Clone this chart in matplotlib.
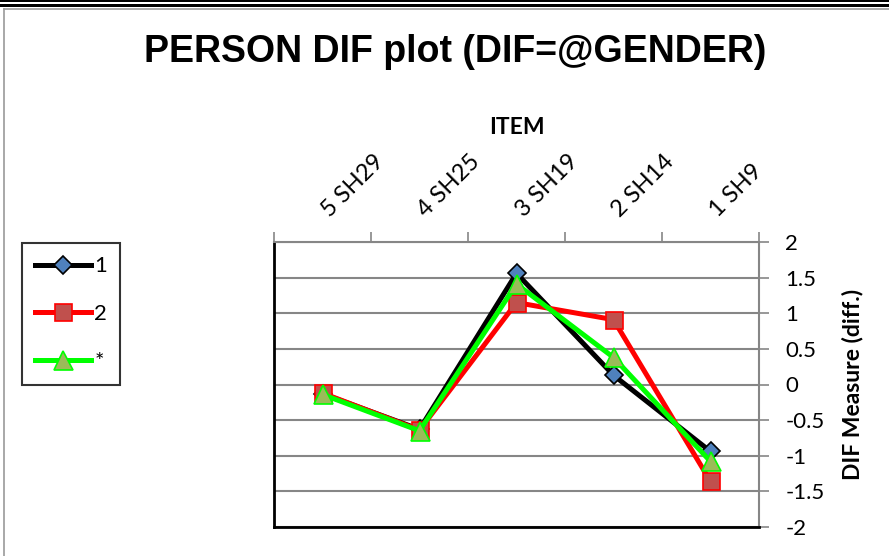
import matplotlib
matplotlib.use('Agg')
import matplotlib.pyplot as plt
from matplotlib.lines import Line2D
from matplotlib.transforms import ScaledTranslation

# ── data ──────────────────────────────────────────────────────────────
items = ['5 SH29', '4 SH25', '3 SH19', '2 SH14', '1 SH9']
series_1 = [-0.13, -0.63, 1.56, 0.13, -0.94]
series_2 = [-0.12, -0.64, 1.15, 0.91, -1.36]
series_star = [-0.14, -0.65, 1.41, 0.38, -1.08]
y_ticks = [-2, -1.5, -1, -0.5, 0, 0.5, 1, 1.5, 2]

plt.rcParams['font.family'] = ['Lato', 'DejaVu Sans']

W, H = 889, 556
fig = plt.figure(figsize=(W / 100, H / 100), dpi=100, facecolor='white')
ax = fig.add_axes([274 / W, 1 - 527 / H, 485 / W, 285 / H])

x = list(range(len(items)))
px = 72 / 100  # points per pixel

ax.plot(x, series_1, color='black', lw=5 * px, marker='D', ms=13 * px,
        mfc='#4F81BD', mec='black', mew=1.2, label='1', zorder=3)
ax.plot(x, series_2, color='#FF0000', lw=5 * px, marker='s', ms=17 * px,
        mfc='#C0504D', mec='#FF0000', mew=1.2, label='2', zorder=4)
ax.plot(x, series_star, color='#00FF00', lw=5 * px, marker='^', ms=19 * px,
        mfc='#9BBB59', mec='#00FF00', mew=1.2, label='*', zorder=5)

ax.set_xlim(-0.5, len(items) - 0.5)
ax.set_ylim(-2, 2)

# y axis on the right
ax.yaxis.tick_right()
ax.yaxis.set_label_position('right')
ax.set_yticks(y_ticks)
ax.set_yticklabels([f'{v:g}' for v in y_ticks])
ax.tick_params(axis='y', direction='out', length=7, width=1.2,
               color='#868686', labelsize=16, pad=12)
ax.set_ylabel('DIF Measure (diff.)', fontsize=16.5, fontweight='bold',
              labelpad=12)

# x axis on top: tick marks between categories, rotated labels drawn as text
ax.xaxis.tick_top()
ax.set_xticks(x)
ax.set_xticklabels([])
ax.set_xticks([i - 0.5 for i in range(len(items) + 1)], minor=True)
ax.tick_params(axis='x', which='major', length=0)
ax.tick_params(axis='x', which='minor', direction='out', length=7,
               width=1.2, color='#868686')
off = ScaledTranslation(7 / 100, 24 / 100, fig.dpi_scale_trans)
for i, name in enumerate(items):
    ax.text(i, 1, name, transform=ax.get_xaxis_transform() + off,
            rotation=45, rotation_mode='anchor', ha='left', va='baseline',
            fontsize=17)
ax.text(0.5, 1, 'ITEM', transform=ax.transAxes +
        ScaledTranslation(0, 115 / 100, fig.dpi_scale_trans),
        ha='center', va='center', fontsize=16.5, fontweight='bold')

ax.grid(axis='y', color='#868686', lw=1.5)
ax.set_axisbelow(True)
for s in ('left', 'bottom'):
    ax.spines[s].set_color('black')
    ax.spines[s].set_linewidth(2)
for s in ('top', 'right'):
    ax.spines[s].set_color('#868686')
    ax.spines[s].set_linewidth(1.5)

fig.text(455 / W, 1 - 52 / H, 'PERSON DIF plot (DIF=@GENDER)',
         ha='center', va='center', fontsize=27, fontweight='bold',
         family=['Liberation Sans', 'DejaVu Sans'])

leg = fig.legend(loc='upper left', bbox_to_anchor=(22 / W, 1 - 243 / H),
                 fontsize=16, frameon=True, fancybox=False, handlelength=2.5,
                 labelspacing=1.25, borderpad=0.6, handletextpad=0.15,
                 borderaxespad=0)
leg.get_frame().set_edgecolor('black')
leg.get_frame().set_linewidth(1.5)

# page border lines
fig.add_artist(Line2D([0, 1], [1 - 1 / H, 1 - 1 / H], color='black', lw=2 * px))
fig.add_artist(Line2D([0, 1], [1 - 4.5 / H, 1 - 4.5 / H], color='black', lw=3 * px))
fig.add_artist(Line2D([3.5 / W, 1], [1 - 8.5 / H, 1 - 8.5 / H], color='#9a9a9a', lw=1.2))
fig.add_artist(Line2D([3.5 / W, 3.5 / W], [0, 1 - 8.5 / H], color='#9a9a9a', lw=1.2))

fig.savefig('out.png', dpi=100, facecolor='white')
